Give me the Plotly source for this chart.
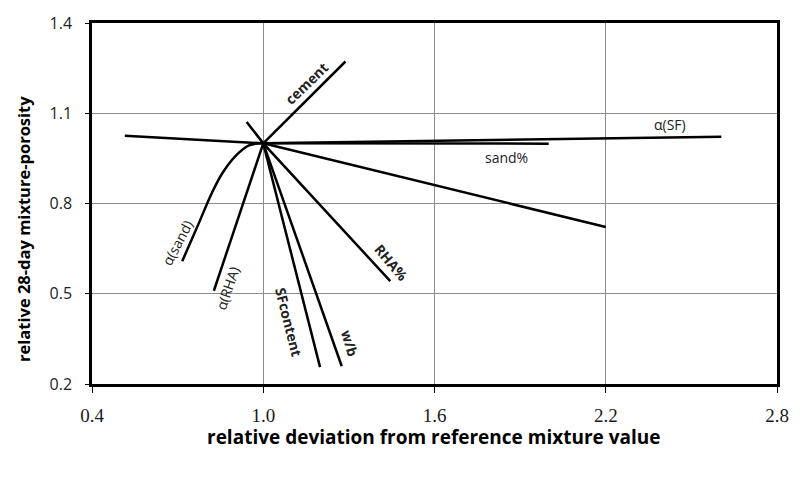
import plotly.graph_objects as go

# ---- data ----
cement_x = [1.0, 1.288]
cement_y = [1.0, 1.272]

alpha_sf_x = [1.0, 2.605]
alpha_sf_y = [1.0, 1.022]

sand_pct_x = [0.515, 1.0, 2.0]
sand_pct_y = [1.025, 1.0, 0.999]

unlabeled_x = [1.0, 2.2]
unlabeled_y = [1.0, 0.722]

alpha_sand_x = [1.0, 0.95, 0.90, 0.855, 0.82, 0.765, 0.716]
alpha_sand_y = [1.0, 0.993, 0.955, 0.898, 0.835, 0.714, 0.608]

alpha_rha_x = [1.0, 0.827]
alpha_rha_y = [1.0, 0.510]

sf_content_x = [1.0, 1.199]
sf_content_y = [1.0, 0.256]

wb_x = [1.0, 1.275]
wb_y = [1.0, 0.259]

rha_pct_x = [0.942, 1.0, 1.445]
rha_pct_y = [1.071, 1.0, 0.542]

x_ticks = [0.4, 1.0, 1.6, 2.2, 2.8]
x_tick_labels = ["0.4", "1.0", "1.6", "2.2", "2.8"]
y_ticks = [0.2, 0.5, 0.8, 1.1, 1.4]
y_tick_labels = ["0.2", "0.5", "0.8", "1.1", "1.4"]

x_title = "relative deviation from reference mixture value"
y_title = "relative 28-day mixture-porosity"

# labels: text, x, y, angle, bold
labels = [
    ("cement", 1.150, 1.200, -44, True),
    ("α(SF)", 2.424, 1.061, 0, False),
    ("sand%", 1.851, 0.953, 0, False),
    ("RHA%", 1.449, 0.604, 50, True),
    ("α(sand)", 0.699, 0.670, -62, False),
    ("α(RHA)", 0.876, 0.520, -71, False),
    ("SFcontent", 1.091, 0.406, 76, True),
    ("w/b", 1.303, 0.334, 73, True),
]

series = [
    (cement_x, cement_y, "linear"),
    (alpha_sf_x, alpha_sf_y, "linear"),
    (sand_pct_x, sand_pct_y, "linear"),
    (unlabeled_x, unlabeled_y, "linear"),
    (alpha_sand_x, alpha_sand_y, "spline"),
    (alpha_rha_x, alpha_rha_y, "linear"),
    (sf_content_x, sf_content_y, "linear"),
    (wb_x, wb_y, "linear"),
    (rha_pct_x, rha_pct_y, "linear"),
]

fig = go.Figure()
for xs, ys, shp in series:
    fig.add_trace(go.Scatter(
        x=xs, y=ys, mode="lines",
        line=dict(color="black", width=2.5, shape=shp, smoothing=1.0),
        showlegend=False, hoverinfo="skip",
    ))

LABEL_FONT = "Open Sans"
SERIF = "Liberation Serif, Times New Roman, DejaVu Serif, serif"
for text, lx, ly, ang, bold in labels:
    fig.add_annotation(
        x=lx, y=ly, text=(f"<b>{text}</b>" if bold else text),
        showarrow=False, textangle=ang,
        font=dict(family=LABEL_FONT, size=14, color="#222222"),
    )

# axis titles as paper annotations (positioned as in the reference)
fig.add_annotation(
    xref="paper", yref="paper", x=0.499, y=-0.147, yanchor="middle",
    text=f"<b>{x_title}</b>", showarrow=False,
    font=dict(family=LABEL_FONT, size=19, color="black"),
)
fig.add_annotation(
    xref="paper", yref="paper", x=-0.101, y=0.429, xanchor="center",
    text=f"<b>{y_title}</b>", showarrow=False, textangle=-90,
    font=dict(family=LABEL_FONT, size=16.5, color="black"),
)

fig.update_layout(
    width=801, height=479,
    margin=dict(l=92, r=18, t=16, b=95),
    paper_bgcolor="white", plot_bgcolor="white",
    font=dict(family=LABEL_FONT, color="black"),
)
fig.update_xaxes(
    range=[0.4, 2.8], tickvals=x_ticks, ticktext=x_tick_labels,
    showgrid=True, gridcolor="#8c8c8c", gridwidth=1,
    showline=True, linecolor="black", linewidth=2.5, mirror=True,
    ticks="outside", ticklen=6, tickcolor="black", tickwidth=1,
    tickfont=dict(family=SERIF, size=19, color="#1a1a1a"),
    ticklabelstandoff=6,
    zeroline=False,
)
fig.update_yaxes(
    range=[0.2, 1.4], tickvals=y_ticks, ticktext=y_tick_labels,
    showgrid=True, gridcolor="#8c8c8c", gridwidth=1,
    showline=True, linecolor="black", linewidth=2.5, mirror=True,
    ticks="outside", ticklen=4, tickcolor="black", tickwidth=1,
    tickfont=dict(family=LABEL_FONT, size=16, color="#222"),
    ticklabelstandoff=10,
    zeroline=False,
)

fig.write_html("out.html")
